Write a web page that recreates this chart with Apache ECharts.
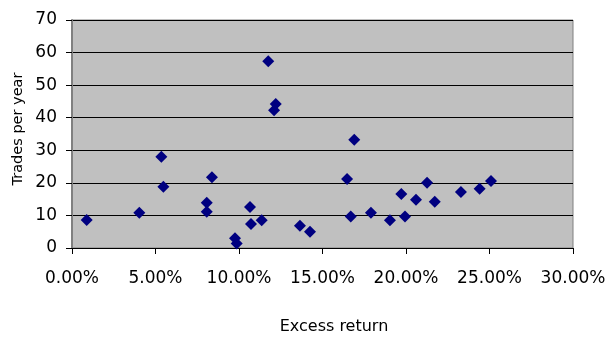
<!DOCTYPE html>
<html>
<head>
<meta charset="utf-8">
<script src="https://cdn.jsdelivr.net/npm/echarts@6/dist/echarts.min.js"></script>
<style>
  html, body { margin: 0; padding: 0; background: #ffffff; }
  #chart { width: 611px; height: 338px; }
</style>
</head>
<body>
<div id="chart"></div>
<script>
// Excess return (%) against number of trades per year, one point per strategy
const excessReturn = [0.88, 4.03, 5.35, 5.47, 8.38, 8.07, 8.07, 9.76, 9.86, 10.66,
  10.72, 11.36, 11.75, 12.2, 12.1, 13.65, 14.25, 16.47, 16.69, 16.9,
  17.9, 19.04, 19.72, 19.94, 20.6, 21.26, 21.72, 23.29, 24.41, 25.09];
const tradesPerYear = [8.6, 10.8, 28.0, 18.8, 21.7, 13.9, 11.1, 3.0, 1.4, 12.6,
  7.4, 8.5, 57.3, 44.2, 42.3, 6.8, 5.0, 21.2, 9.7, 33.2,
  10.8, 8.5, 16.6, 9.7, 14.8, 20.0, 14.2, 17.2, 18.2, 20.6];
const xTicks = [0, 5, 10, 15, 20, 25, 30];
const yTicks = [0, 10, 20, 30, 40, 50, 60, 70];
const xTitle = 'Excess return';
const yTitle = 'Trades per year';

const points = excessReturn.map((x, i) => [x, tradesPerYear[i]]);

const chart = echarts.init(document.getElementById('chart'), null, { renderer: 'canvas' });
const labelFont = { fontFamily: 'DejaVu Sans', fontSize: 17, color: '#000000' };

chart.setOption({
  animation: false,
  backgroundColor: '#ffffff',
  grid: {
    left: 72, right: 38, top: 20, bottom: 90,
    show: true,
    backgroundColor: '#c0c0c0',
    borderColor: '#808080',
    borderWidth: 1
  },
  xAxis: {
    type: 'value',
    min: xTicks[0], max: xTicks[xTicks.length - 1], interval: 5,
    axisLine: { show: true, onZero: false, lineStyle: { color: '#000000', width: 1 } },
    axisTick: { show: true, inside: false, length: 6, lineStyle: { color: '#000000' } },
    axisLabel: Object.assign({ margin: 22, formatter: v => v.toFixed(2) + '%' }, labelFont),
    splitLine: { show: false }
  },
  yAxis: {
    type: 'value',
    min: yTicks[0], max: yTicks[yTicks.length - 1], interval: 10,
    axisLine: { show: true, onZero: false, lineStyle: { color: '#808080', width: 2 } },
    axisTick: { show: true, inside: false, length: 6, lineStyle: { color: '#000000' } },
    axisLabel: Object.assign({ margin: 15 }, labelFont),
    splitLine: { show: true, lineStyle: { color: '#000000', width: 1 } }
  },
  graphic: [
    {
      type: 'text', x: 334, y: 327,
      style: { text: xTitle, font: '16px "DejaVu Sans"', fill: '#000000', align: 'center', verticalAlign: 'middle' }
    },
    {
      type: 'text', x: 18, y: 129, rotation: Math.PI / 2,
      style: { text: yTitle, font: '14.5px "DejaVu Sans"', fill: '#000000', align: 'center', verticalAlign: 'middle' }
    }
  ],
  series: [{
    type: 'scatter',
    data: points,
    symbol: 'diamond',
    symbolSize: 12,
    itemStyle: { color: '#000080', opacity: 1 }
  }]
});
</script>
</body>
</html>
